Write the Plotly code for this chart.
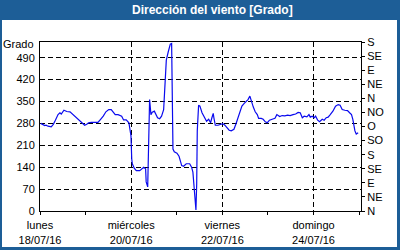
import plotly.graph_objects as go

# hours since 18/07/16 00:00
hours = [0.4, 1.4, 2.5, 3.2, 4.2, 5.9, 7.0, 8.1, 9.5, 10.5, 11.2, 12.6, 14.1, 15.8, 16.5, 17.5,
         19.3, 20.7, 22.1, 23.5, 24.6, 25.6, 27.0, 29.1, 30.5, 31.9, 33.3, 34.7, 36.2, 37.5,
         38.6, 39.6, 41.1, 43.0, 44.0, 45.4, 46.8, 47.5, 47.9, 48.3, 48.6, 49.6, 50.7, 52.5,
         53.5, 54.6, 55.6, 55.9, 56.7, 57.0, 57.4, 57.7, 58.4, 59.1, 60.2, 60.9, 61.9, 63.0,
         64.0, 65.1, 65.8, 66.5, 67.5, 68.6, 69.3, 70.0, 70.7, 72.1, 73.2, 73.8, 74.6, 75.6,
         77.0, 78.8, 79.8, 80.5, 81.0, 81.4, 81.8, 82.1, 82.5, 82.8, 83.5, 84.2, 85.3, 86.7,
         87.7, 88.8, 89.8, 90.5, 91.2, 91.6, 92.3, 93.7, 95.1, 96.2, 97.2, 98.3, 99.6, 100.7,
         102.1, 103.2, 104.2, 105.3, 106.3, 107.4, 108.4, 109.5, 110.5, 111.2, 112.3, 113.3,
         114.4, 115.1, 116.5, 117.5, 118.6, 119.7, 120.8, 122.6, 123.7, 124.7, 126.2, 127.5,
         128.9, 130.4, 131.7, 133.2, 134.6, 135.9, 137.0, 138.1, 139.1, 140.5, 141.6, 142.3,
         143.3, 144.4, 145.1, 146.2, 147.2, 148.6, 149.6, 150.7, 151.7, 152.8, 154.2, 155.6,
         157.0, 158.0, 159.1, 160.5, 161.9, 163.0, 164.0, 164.7, 165.1, 165.8, 166.5, 167.5]
direction = [280, 276, 273, 274, 271, 269, 277, 290, 308, 314, 310, 322, 318, 317, 313, 308,
             298, 287, 279, 274, 277, 282, 283, 282, 283, 293, 303, 317, 324, 324,
             317, 308, 308, 303, 291, 291, 282, 261, 240, 166, 151, 137, 129, 129,
             135, 140, 135, 93, 77, 151, 282, 356, 308, 316, 319, 308, 298, 295,
             303, 324, 398, 482, 508, 533, 535, 198, 189, 185, 175, 158, 145, 143,
             151, 151, 140, 124, 87, 56, 20, 3, 87, 256, 338, 335, 314, 296,
             287, 293, 282, 298, 312, 296, 274, 274, 277, 279, 275, 268, 258, 256,
             261, 279, 298, 319, 335, 343, 348, 356, 367, 351, 332, 317,
             308, 296, 296, 293, 285, 282, 290, 294, 296, 308, 302, 305,
             304, 306, 305, 308, 310, 315, 314, 298, 303, 301, 308, 300,
             303, 298, 303, 290, 285, 293, 290, 298, 300, 308, 319, 335,
             340, 338, 324, 322, 321, 314, 308, 293, 277, 256, 246, 250]

x_tickvals = [0, 48, 96, 144]
x_ticktext = ["lunes<br>18/07/16", "miércoles<br>20/07/16", "viernes<br>22/07/16", "domingo<br>24/07/16"]
y_tickvals = [0, 70, 140, 210, 280, 350, 420, 490]
compass_vals = [0, 45, 90, 135, 180, 225, 270, 315, 360, 405, 450, 495, 540]
compass_text = ["N", "NE", "E", "SE", "S", "SO", "O", "NO", "N", "NE", "E", "SE", "S"]

BLUE = "#1d5e97"
FONT = "Liberation Sans"

fig = go.Figure()
fig.add_trace(go.Scatter(x=hours, y=direction, mode="lines",
                         line=dict(color="#0a0aee", width=1.2), hoverinfo="skip"))
fig.add_trace(go.Scatter(x=[0], y=[0], yaxis="y2", mode="markers",
                         marker=dict(opacity=0), hoverinfo="skip"))

L, R, T, B = 40, 39, 42, 39
W, H = 400, 250
pw, ph = W - L - R, H - T - B

def px(x):
    return (x - L) / pw

def py(y):
    return (H - B - y) / ph

fig.update_layout(
    width=W, height=H, margin=dict(l=L, r=R, t=T, b=B, autoexpand=False),
    paper_bgcolor=BLUE, plot_bgcolor="white", showlegend=False,
    font=dict(family=FONT, size=11, color="black"),
    xaxis=dict(range=[0, 169], tickmode="array", tickvals=x_tickvals, ticktext=x_ticktext,
               ticks="outside", ticklen=3, tickcolor="black", ticklabelstandoff=1,
               automargin=False,
               showgrid=True, gridcolor="black", griddash="5px,3px", gridwidth=1,
               showline=True, linecolor="black", linewidth=1, mirror=True, zeroline=False,
               minor=dict(tickmode="linear", tick0=0, dtick=24, ticks="outside", ticklen=3,
                          tickcolor="black", showgrid=False),
               tickfont=dict(family=FONT, size=11)),
    yaxis=dict(range=[0, 540], tickmode="array", tickvals=y_tickvals, automargin=False,
               showgrid=True, gridcolor="black", griddash="5px,3px", gridwidth=1,
               showline=True, linecolor="black", linewidth=1, mirror=True, zeroline=False,
               ticks="", ticklabelstandoff=2, tickfont=dict(family=FONT, size=11)),
    yaxis2=dict(range=[0, 540], overlaying="y", side="right", tickmode="array",
                tickvals=compass_vals, ticktext=compass_text, ticks="outside", ticklen=3,
                tickcolor="black", showgrid=False, showline=False, zeroline=False,
                automargin=False,
                ticklabelstandoff=0, tickfont=dict(family=FONT, size=11)),
    shapes=[dict(type="rect", xref="paper", yref="paper", layer="below",
                 x0=px(2), x1=px(397), y0=py(247), y1=py(20),
                 fillcolor="white", line=dict(width=0))],
    annotations=[
        dict(text="<b>Dirección del viento [Grado]</b>", xref="paper", yref="paper",
             x=px(213), y=py(10), xanchor="center", yanchor="middle", showarrow=False,
             font=dict(family=FONT, size=12, color="white")),
        dict(text="Grado", xref="paper", yref="paper", x=px(36), y=py(44.5),
             xanchor="right", yanchor="middle", showarrow=False,
             font=dict(family=FONT, size=11, color="black")),
    ],
)

fig.write_html("out.html")
